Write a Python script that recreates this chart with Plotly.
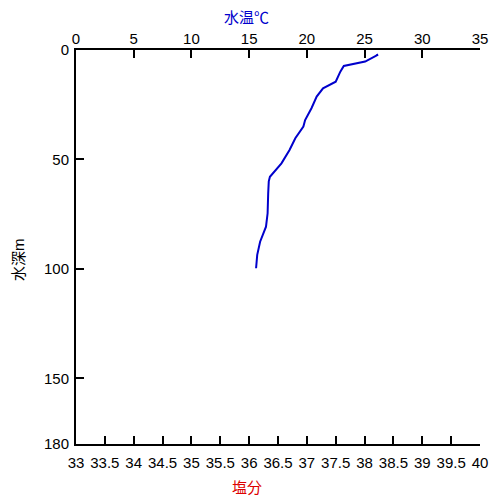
import plotly.graph_objects as go

# depth profile
depth = [1.8, 2.3, 5.3, 7.3, 9.9, 14.5, 17.5, 21.3, 26.6, 29.7, 32, 35, 40.3, 45.7,
         51.8, 57.9, 60, 65.5, 74.6, 80.7, 84.5, 87.6, 93.6, 99.7]
temp = [26.05, 26.1, 25.05, 23.2, 22.9, 22.5, 21.4, 20.85, 20.4, 20.1, 19.85, 19.7,
        19.0, 18.5, 17.8, 16.8, 16.7, 16.65, 16.6, 16.46, 16.2, 15.95, 15.7, 15.6]

temp_ticks = [0, 5, 10, 15, 20, 25, 30, 35]
sal_ticks = [33, 33.5, 34, 34.5, 35, 35.5, 36, 36.5, 37, 37.5, 38, 38.5, 39, 39.5, 40]
depth_ticks = [0, 50, 100, 150, 180]

font = "Liberation Sans, Arial, Noto Sans CJK JP"

fig = go.Figure()
fig.add_trace(go.Scatter(x=temp, y=depth, mode="lines",
                         line=dict(color="#0000CC", width=2), xaxis="x", yaxis="y"))
fig.add_trace(go.Scatter(x=[], y=[], xaxis="x2", yaxis="y", showlegend=False))

axis_style = dict(showline=True, linecolor="black", linewidth=2, ticks="inside",
                  ticklen=8, tickwidth=2, tickcolor="black", showgrid=False,
                  zeroline=False, automargin=False,
                  tickfont=dict(size=15, color="black", family=font))

# page body adds an 8px offset, so the figure is 492px with margins shifted
fig.update_layout(
    width=492, height=492, showlegend=False,
    plot_bgcolor="white", paper_bgcolor="white",
    margin=dict(l=68, r=20, t=42, b=56),
    font=dict(family=font),
    xaxis=dict(side="top", range=[0, 35], tickvals=temp_ticks, ticklabelstandoff=-2,
               **axis_style),
    xaxis2=dict(side="bottom", overlaying="x", range=[33, 40], tickvals=sal_ticks,
                ticktext=[f"{v:g}" for v in sal_ticks], ticklabelstandoff=4,
                **axis_style),
    yaxis=dict(range=[180, 0], tickvals=depth_ticks, ticklabelstandoff=2, **axis_style),
)

# axis titles sit off-centre in the original, so place them as annotations
fig.add_annotation(text="水温℃", xref="paper", yref="paper", x=0.423, y=1,
                   yanchor="middle", yshift=33, showarrow=False,
                   font=dict(size=15, color="#0000CC"))
fig.add_annotation(text="塩分", xref="paper", yref="paper", x=0.423, y=0,
                   yanchor="middle", yshift=-43, showarrow=False,
                   font=dict(size=15, color="#DD0000"))
fig.add_annotation(text="水深m", xref="paper", yref="paper", x=0, y=0.467,
                   xanchor="center", xshift=-58, textangle=-90, showarrow=False,
                   font=dict(size=15, color="black"))

fig.write_html("out.html")
